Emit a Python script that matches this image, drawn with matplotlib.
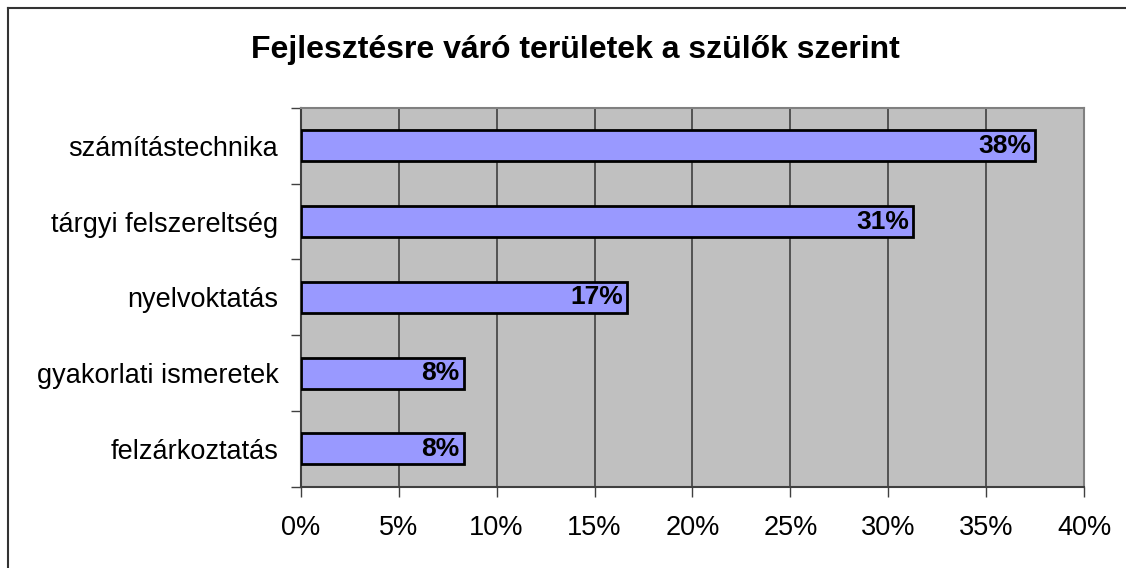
import matplotlib.pyplot as plt
import numpy as np
from matplotlib.lines import Line2D

# data (top to bottom)
categories = ["számítástechnika", "tárgyi felszereltség", "nyelvoktatás",
              "gyakorlati ismeretek", "felzárkoztatás"]
values = [0.375, 0.3125, 0.1667, 0.0833, 0.0833]
value_labels = ["38%", "31%", "17%", "8%", "8%"]
x_ticks = [0, 0.05, 0.10, 0.15, 0.20, 0.25, 0.30, 0.35, 0.40]
x_ticklabels = ["0%", "5%", "10%", "15%", "20%", "25%", "30%", "35%", "40%"]

plt.rcParams['font.family'] = ['Liberation Sans', 'DejaVu Sans']

fig = plt.figure(figsize=(11.26, 5.68), dpi=100)
ax = fig.add_axes([0.267, 0.143, 0.696, 0.667])
ax.set_facecolor('#C0C0C0')

y = np.arange(len(categories))
ax.barh(y, values, height=0.41, color='#9999FF', edgecolor='black',
        linewidth=2, zorder=3)

for yi, v, lab in zip(y, values, value_labels):
    ax.annotate(lab, (v, yi), xytext=(-3, 0), textcoords='offset points',
                ha='right', va='center', fontsize=19, fontweight='bold',
                color='black', zorder=4)

ax.set_xlim(0, 0.40)
ax.set_ylim(len(categories) - 0.5, -0.5)
ax.set_xticks(x_ticks)
ax.set_xticklabels(x_ticklabels, fontsize=19.5)
ax.set_yticks(y)
ax.set_yticklabels(categories, fontsize=19.5)
ax.set_yticks(np.arange(-0.5, len(categories), 1), minor=True)

ax.tick_params(axis='y', which='major', length=0, pad=16)
ax.tick_params(axis='y', which='minor', length=7, width=1, color='#404040')
ax.tick_params(axis='x', which='major', length=7, width=1, color='#404040', pad=13)

ax.grid(axis='x', color='#404040', linewidth=1.2, zorder=1)
ax.set_axisbelow(True)

for s in ['top', 'right']:
    ax.spines[s].set_color('#808080')
    ax.spines[s].set_linewidth(1.5)
for s in ['left', 'bottom']:
    ax.spines[s].set_color('#404040')
    ax.spines[s].set_linewidth(1.5)

fig.text(0.511, 1 - 58 / 568, "Fejlesztésre váró területek a szülők szerint",
         ha='center', va='baseline', fontsize=23, fontweight='bold')

# outer chart border (only top and left visible)
fig.add_artist(Line2D([8 / 1126, 1.0], [1 - 8 / 568, 1 - 8 / 568],
                      color='#333333', linewidth=1.5, transform=fig.transFigure))
fig.add_artist(Line2D([8 / 1126, 8 / 1126], [0, 1 - 8 / 568],
                      color='#333333', linewidth=1.5, transform=fig.transFigure))

fig.savefig("out.png", dpi=100, facecolor='white')
